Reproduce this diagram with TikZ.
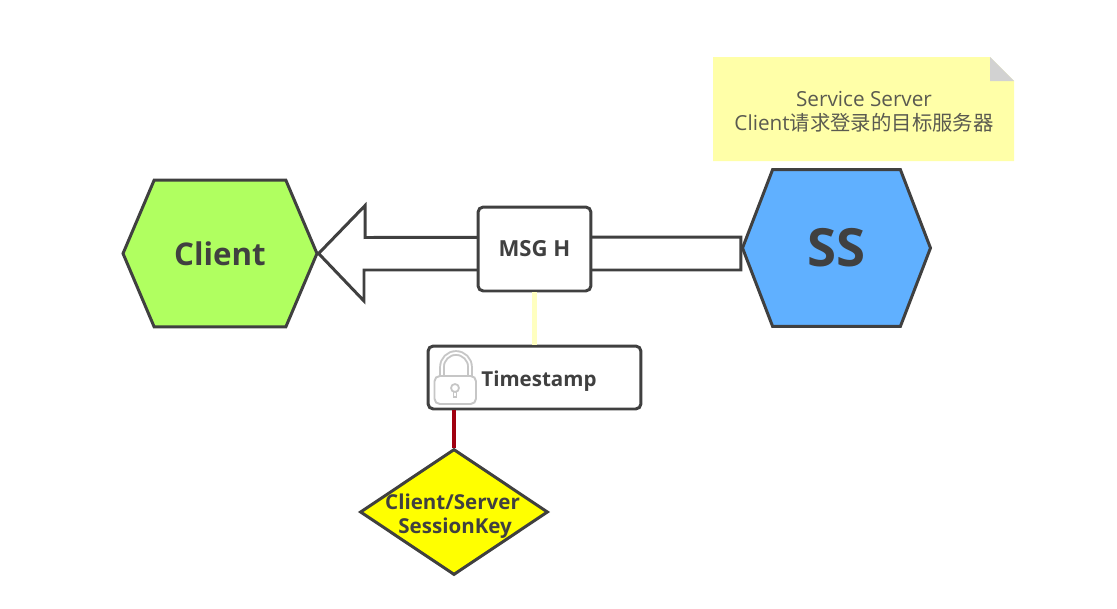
\documentclass[tikz,border=0pt]{standalone}
\usepackage{fontspec}
\setmainfont{Open Sans}
\newfontfamily\cjkfont{Noto Sans CJK SC}
\usetikzlibrary{shapes.geometric,shapes.symbols,positioning}
\definecolor{inkgray}{HTML}{404040}
\definecolor{notetext}{HTML}{5A5A50}
\definecolor{notefill}{HTML}{FFFFA8}
\definecolor{foldgray}{HTML}{D2D2D2}
\definecolor{clientgreen}{HTML}{B0FF60}
\definecolor{serverblue}{HTML}{60B0FF}
\definecolor{keyyellow}{HTML}{FFFF00}
\definecolor{linkyellow}{HTML}{FFFFC0}
\definecolor{linkred}{HTML}{A00010}
\tikzset{
  hexnode/.style={signal,signal to=east and west,signal pointer angle=#1,
    draw=inkgray,line width=1.7pt,inner sep=0pt,text=inkgray},
  msgbox/.style={rectangle,rounded corners=3pt,draw=inkgray,line width=1.7pt,fill=white,
    inner sep=0pt,text=inkgray},
  keynode/.style={diamond,draw=inkgray,line width=1.7pt,fill=keyyellow,inner sep=0pt,aspect=1.5},
  bigarrow/.style={draw=inkgray,line width=1.7pt,fill=white,line join=miter},
}
\begin{document}
\begin{tikzpicture}[x=0.02cm,y=-0.02cm]
  \useasboundingbox (0,0) rectangle (1117,609);
  % hexagons at both ends
  \node[hexnode=134,fill=clientgreen,minimum width=3.88cm,minimum height=2.94cm,font=\bfseries\fontsize{17.8}{22}\selectfont] (client) at (220,253.5) {Client};
  \node[hexnode=138,fill=serverblue,minimum width=3.76cm,minimum height=3.14cm,font=\bfseries\fontsize{30}{34}\selectfont] (ss) at (836.5,248) {SS};
  % message arrow, the box sits on top of it
  \draw[bigarrow] (client.east) -- ++(46.5,-48) -- ++(0,32) -- (ss.west |- 0,237) -- (ss.west |- 0,270) -- (364,270) -- ++(0,31) -- cycle;
  \node[msgbox,minimum width=2.26cm,minimum height=1.68cm,font=\bfseries\fontsize{12.6}{14}\selectfont] (msg) at (534.5,249) {MSG H};
  \node[msgbox,minimum width=4.26cm,minimum height=1.26cm] (stamp) at (534.5,377.5) {};
  \node[anchor=west,inner sep=0pt,text=inkgray,font=\bfseries\fontsize{11.7}{14}\selectfont] (stamptext) at (481,381) {Timestamp};
  \node[keynode,minimum width=3.76cm,minimum height=2.52cm] (key) at (454,512) {};
  \node[align=center,inner sep=0pt,text=inkgray,font=\bfseries\fontsize{11.7}{13.7}\selectfont] (keytext) at (452.5,516) {Client/Server\\\hspace*{3pt}SessionKey};
  \draw[linkyellow,line width=2.4pt] (msg.south) -- (stamp.north);
  \draw[linkred,line width=2.2pt] (key.north) -- (key.north |- stamp.south);
  % padlock
  \begin{scope}[shift={(434,352)}]
    \draw[gray!45,line width=3.2pt] (8,26) -- (8,15) arc[start angle=180,end angle=0,x radius=14,y radius=-14] -- (36,26);
    \draw[white,line width=1pt] (8,26) -- (8,15) arc[start angle=180,end angle=0,x radius=14,y radius=-14] -- (36,26);
    \draw[gray!45,line width=1.1pt,fill=white,rounded corners=3pt] (0.5,24) rectangle (42,52);
    \draw[gray!45,line width=1pt] (21,36) circle (4);
    \draw[gray!45,line width=1pt] (19.5,40) -- (19.5,45) -- (22.5,45) -- (22.5,40);
  \end{scope}
  % note in the upper corner
  \fill[notefill] (713,57) -- (990,57) -- (1014,81) -- (1014,161) -- (713,161) -- cycle;
  \fill[foldgray] (990,57) -- (1014,81) -- (990,81) -- cycle;
  \node[align=center,inner sep=0pt,text=notetext,font=\fontsize{11.8}{13.7}\selectfont] (note) at (864,111.5) {Service Server\\Client{\cjkfont\fontsize{11.6}{13.7}\selectfont 请求登录的目标服务器}};
\end{tikzpicture}
\end{document}
